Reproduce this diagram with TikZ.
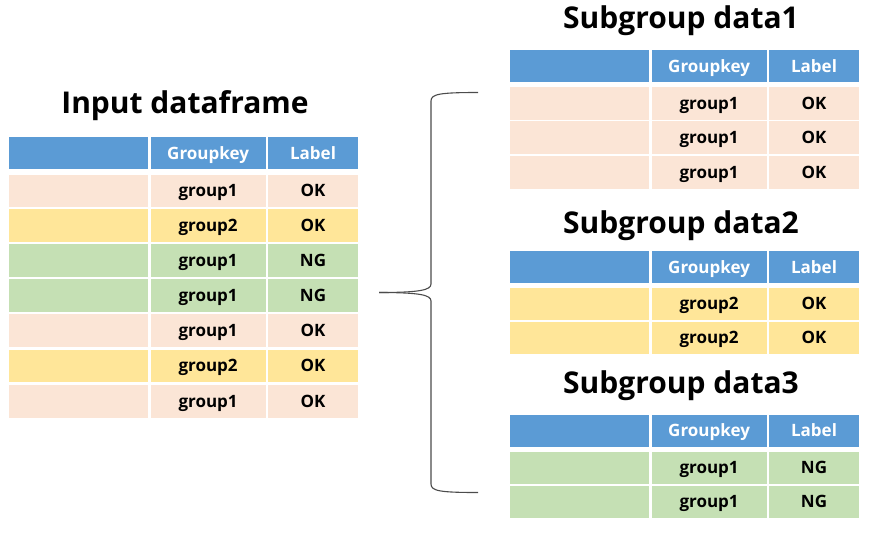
\documentclass[tikz,border=0pt]{standalone}
\usepackage{fontspec}
\setmainfont{Open Sans}
\usetikzlibrary{positioning}
\definecolor{hdblue}{HTML}{5B9BD5}
\definecolor{rowpeach}{HTML}{FBE5D6}
\definecolor{rowyellow}{HTML}{FFE699}
\definecolor{rowgreen}{HTML}{C5E0B4}
\tikzset{
	cell/.style={anchor=north west, inner sep=0pt, minimum height=32.5pt, text height=12pt, text depth=0pt, font=\fontsize{17}{20}\selectfont\bfseries},
	headcell/.style={cell, fill=hdblue, minimum height=32pt, text=white},
	tabtitle/.style={anchor=base, inner sep=0pt, font=\fontsize{30}{36}\selectfont\bfseries},
}
% one table row: name, x, y, colour, key, label
\def\datarow#1#2#3#4#5#6{
	\node[cell, fill=#4, minimum width=139pt] (#1a) at (#2, #3) {};
	\node[cell, fill=#4, minimum width=115pt, xshift=2pt] (#1b) at (#1a.north east) {#5};
	\node[cell, fill=#4, minimum width=90pt, xshift=2pt] (#1c) at (#1b.north east) {#6};
}
\def\headrow#1#2#3{
	\node[headcell, minimum width=139pt] (#1a) at (#2, #3) {};
	\node[headcell, minimum width=115pt, xshift=2pt] (#1b) at (#1a.north east) {Groupkey};
	\node[headcell, minimum width=90pt, xshift=2pt] (#1c) at (#1b.north east) {Label};
}

\begin{document}
\begin{tikzpicture}[x=1pt, y=-1pt]
			%%%%% START %%%%%
			\useasboundingbox (0, 0) rectangle (873, 539);
			
			\node[tabtitle] (tin) at (185, 113) {Input dataframe};
			\headrow{inh}{9}{137}
			\datarow{in1}{9}{174.5}{rowpeach}{group1}{OK}
			\datarow{in2}{9}{209}{rowyellow}{group2}{OK}
			\datarow{in3}{9}{244}{rowgreen}{group1}{NG}
			\datarow{in4}{9}{279}{rowgreen}{group1}{NG}
			\datarow{in5}{9}{314}{rowpeach}{group1}{OK}
			\datarow{in6}{9}{349.5}{rowyellow}{group2}{OK}
			\datarow{in7}{9}{385}{rowpeach}{group1}{OK}
			
			\node[tabtitle] (tsa) at (681, 28.5) {Subgroup data1};
			\headrow{sah}{510}{50}
			\datarow{sa1}{510}{87}{rowpeach}{group1}{OK}
			\datarow{sa2}{510}{121}{rowpeach}{group1}{OK}
			\datarow{sa3}{510}{156}{rowpeach}{group1}{OK}
			
			\node[tabtitle] (tsb) at (681, 233) {Subgroup data2};
			\headrow{sbh}{510}{251}
			\datarow{sb1}{510}{287.5}{rowyellow}{group2}{OK}
			\datarow{sb2}{510}{321.5}{rowyellow}{group2}{OK}
			
			\node[tabtitle] (tsc) at (681, 393.5) {Subgroup data3};
			\headrow{sch}{510}{414.5}
			\datarow{sc1}{510}{451.5}{rowgreen}{group1}{NG}
			\datarow{sc2}{510}{485.5}{rowgreen}{group1}{NG}
			
			% brace
			\coordinate (btop) at (478, 92.5);
			\coordinate (btip) at (379, 292.5);
			\coordinate (bbot) at (478, 492.5);
			\draw[line width=1.1pt, color=black!70] (btop) .. controls (440, 92.5) and (431, 94) .. (431, 101) -- (431, 284) .. controls (431, 290) and (420, 292.5) .. (btip);
			\draw[line width=1.1pt, color=black!70] (btip) .. controls (420, 292.5) and (431, 295) .. (431, 301) -- (431, 484) .. controls (431, 491) and (440, 492.5) .. (bbot);
			
			%%%%% END %%%%%
\end{tikzpicture}
\end{document}
